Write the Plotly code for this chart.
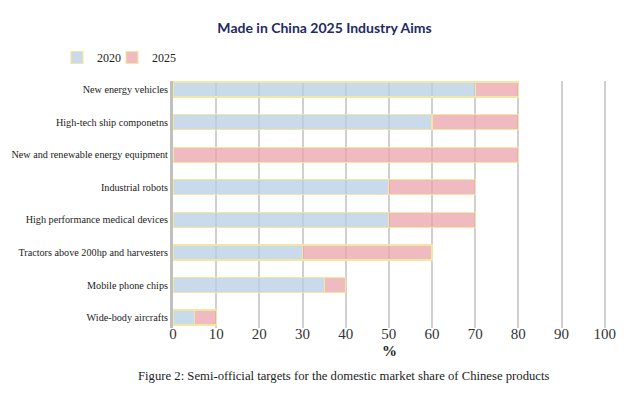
import plotly.graph_objects as go

# ---- data (top to bottom as shown) ----
categories = [
    "New energy vehicles",
    "High-tech ship componetns",
    "New and renewable energy equipment",
    "Industrial robots",
    "High performance medical devices",
    "Tractors above 200hp and harvesters",
    "Mobile phone chips",
    "Wide-body aircrafts",
]
share_2020 = [70, 60, None, 50, 50, 30, 35, 5]
share_2025 = [80, 80, 80, 70, 70, 60, 40, 10]
x_ticks = [0, 10, 20, 30, 40, 50, 60, 70, 80, 90, 100]

# stacked increment from 2020 level to 2025 target
inc_2025 = [t - (b or 0) for t, b in zip(share_2025, share_2020)]

SERIF = "Liberation Serif, Times New Roman, serif"
BORDER = "#f3e6a2"

fig = go.Figure()
fig.add_trace(go.Bar(
    name="2020", y=categories, x=share_2020, orientation="h",
    marker=dict(color="rgba(183,206,228,0.75)", line=dict(color=BORDER, width=1.2)),
    width=0.46, legend="legend",
))
fig.add_trace(go.Bar(
    name="2025", y=categories, x=inc_2025, orientation="h",
    marker=dict(color="rgba(235,163,172,0.75)", line=dict(color=BORDER, width=1.2)),
    width=0.46, legend="legend2",
))

legend_common = dict(
    orientation="h", xref="container", yref="container",
    xanchor="left", yanchor="middle", y=1 - 57.5 / 398,
    font=dict(family=SERIF, size=12, color="#222"),
    bgcolor="rgba(0,0,0,0)",
)

fig.update_layout(
    barmode="stack",
    width=640, height=398,
    margin=dict(l=173, r=34, t=81, b=70, autoexpand=False),
    paper_bgcolor="white", plot_bgcolor="white",
    title=dict(
        text="<b>Made in China 2025 Industry Aims</b>",
        x=324.5 / 640, xref="container", xanchor="center",
        y=1 - 28 / 398, yref="container", yanchor="middle",
        font=dict(family="Lato, Roboto, sans-serif", size=14, color="#222a66"),
    ),
    legend=dict(legend_common, x=57 / 640),
    legend2=dict(legend_common, x=112 / 640),
    showlegend=True,
)

fig.update_xaxes(
    range=[0, 100.3],
    tickvals=x_ticks, ticktext=[str(v) for v in x_ticks],
    showgrid=True, gridcolor="#d0d0d0", gridwidth=1.5,
    zeroline=False, showline=False, ticks="",
    ticklabelstandoff=-5, automargin=False,
    tickfont=dict(family=SERIF, size=15, color="#333"),
    title=dict(text="<b>%</b>", font=dict(family=SERIF, size=15, color="#222"), standoff=4),
)
fig.update_yaxes(
    type="category", categoryorder="array", categoryarray=categories,
    range=[7.32, -0.26],
    showgrid=False, zeroline=False,
    showline=True, linecolor="#c0c0c0", linewidth=3,
    ticks="", ticklabelstandoff=0, automargin=False,
    tickfont=dict(family=SERIF, size=10.2, color="#222"),
)

fig.add_annotation(
    text="Figure 2: Semi-official targets for the domestic market share of Chinese products",
    xref="paper", yref="paper",
    x=(343 - 173) / 433, y=-(376 - 328) / 247,
    xanchor="center", yanchor="middle", showarrow=False,
    font=dict(family=SERIF, size=12.7, color="#222"),
)

fig.write_html(
    "out.html",
    config={"displayModeBar": False},
    post_script="document.body.style.margin='0';",
)
